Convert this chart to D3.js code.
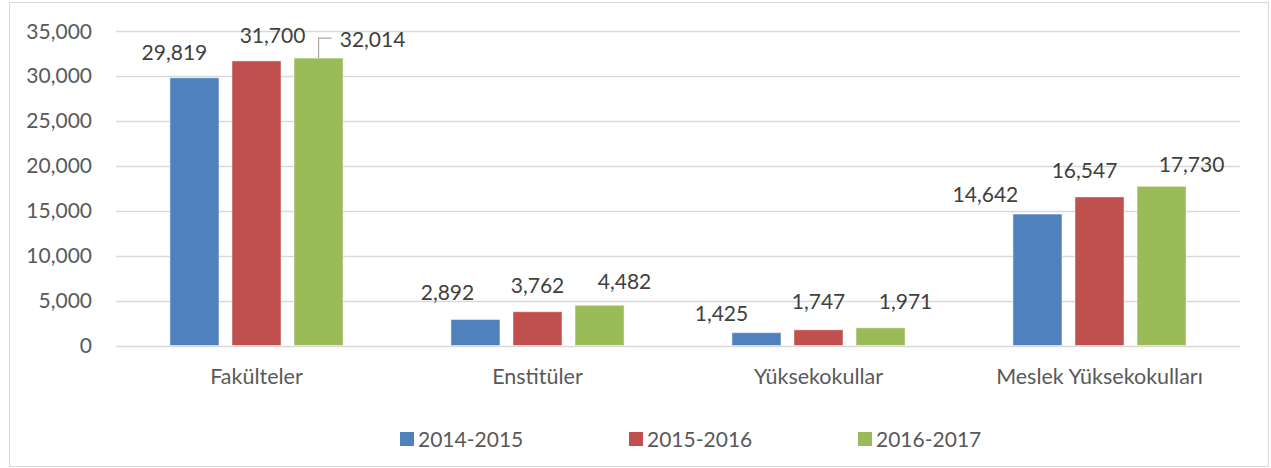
<!DOCTYPE html>
<html>
<head>
<meta charset="utf-8">
<script src="https://cdn.jsdelivr.net/npm/d3@7"></script>
<style>
  body { margin: 0; background: #fff; }
  text { font-family: Lato, "Open Sans", sans-serif; }
</style>
</head>
<body>
<div id="chart"></div>
<script>
// data
const categories = ["Fakülteler", "Enstitüler", "Yüksekokullar", "Meslek Yüksekokulları"];
const seriesNames = ["2014-2015", "2015-2016", "2016-2017"];
const values2014 = [29819, 2892, 1425, 14642];
const values2015 = [31700, 3762, 1747, 16547];
const values2016 = [32014, 4482, 1971, 17730];
const yTicks = [0, 5000, 10000, 15000, 20000, 25000, 30000, 35000];

const colors = ["#4F81BD", "#C0504D", "#9BBB59"];
const seriesValues = [values2014, values2015, values2016];

// label placement as excel left it (dx from bar centre, gap above bar top)
const labelNudge = [
    [[-20, 18], [16, 18], [54, 11]],
    [[-28, 20], [0, 19], [25, 16]],
    [[-35, 12], [0, 21], [25, 19]],
    [[-52, 12], [-15, 19], [30, 14]]
];

const width = 1271, height = 468;
const margin = { top: 31, right: 31, bottom: 122, left: 116 };

const svg = d3.select("#chart").append("svg")
    .attr("width", width)
    .attr("height", height);

// outer frame
svg.append("rect")
    .attr("x", 9.5).attr("y", 2.5)
    .attr("width", 1259).attr("height", 464)
    .attr("fill", "#fff")
    .attr("stroke", "#d9d9d9");

const x = d3.scaleBand()
    .domain(categories)
    .range([margin.left, width - margin.right])
    .paddingInner(0.384)
    .paddingOuter(0.192);

const xSub = d3.scaleBand()
    .domain(seriesNames)
    .range([0, x.bandwidth()])
    .paddingInner(0.21);

const y = d3.scaleLinear()
    .domain([0, 35000])
    .range([345.5, 31.3]);

// grid lines
svg.append("g")
    .selectAll("line")
    .data(yTicks)
    .join("line")
    .attr("x1", margin.left)
    .attr("x2", width - margin.right)
    .attr("y1", d => Math.round(y(d)) + 0.5)
    .attr("y2", d => Math.round(y(d)) + 0.5)
    .attr("stroke", "#d9d9d9")
    .attr("stroke-width", 1.3);

// y axis labels
const yAxis = svg.append("g")
    .attr("transform", `translate(${margin.left - 24},0)`)
    .call(d3.axisLeft(y).tickValues(yTicks).tickSize(0).tickPadding(0).tickFormat(d3.format(",")));
yAxis.select(".domain").remove();
yAxis.selectAll("text")
    .attr("fill", "#595959")
    .style("font-size", "21px")
    .style("font-family", "Lato, sans-serif");

// x axis labels
const xAxis = svg.append("g")
    .attr("transform", `translate(0,${y(0)})`)
    .call(d3.axisBottom(x).tickSize(0).tickPadding(23));
xAxis.select(".domain").remove();
xAxis.selectAll("text")
    .attr("fill", "#595959")
    .style("font-size", "21.5px")
    .style("font-family", "Lato, sans-serif");

// bars
const groups = svg.append("g")
    .selectAll("g")
    .data(categories)
    .join("g")
    .attr("transform", d => `translate(${x(d)},0)`);

groups.selectAll("rect")
    .data((c, i) => seriesNames.map((s, j) => ({ s, j, i, v: seriesValues[j][i] })))
    .join("rect")
    .attr("x", d => xSub(d.s))
    .attr("y", d => y(d.v))
    .attr("width", xSub.bandwidth())
    .attr("height", d => y(0) - y(d.v))
    .attr("fill", d => colors[d.j])
    .attr("stroke", "rgba(255,255,255,0.45)")
    .attr("stroke-width", 1);

// data labels
groups.selectAll("text.val")
    .data((c, i) => seriesNames.map((s, j) => ({ s, j, i, v: seriesValues[j][i] })))
    .join("text")
    .attr("class", "val")
    .attr("x", d => xSub(d.s) + xSub.bandwidth() / 2 + labelNudge[d.i][d.j][0])
    .attr("y", d => y(d.v) - labelNudge[d.i][d.j][1])
    .attr("text-anchor", "middle")
    .attr("fill", "#404040")
    .style("font-size", "21px")
    .text(d => d3.format(",")(d.v));

// leader line for 32,014
const lead = { i: 0, j: 2 };
const leadX = x(categories[lead.i]) + xSub(seriesNames[lead.j]) + xSub.bandwidth() / 2;
const leadTop = y(seriesValues[lead.j][lead.i]);
svg.append("path")
    .attr("d", `M${leadX},${leadTop} V${leadTop - 20} H${leadX + 13}`)
    .attr("fill", "none")
    .attr("stroke", "#a6a6a6")
    .attr("stroke-width", 1.2);

// legend
const legend = svg.append("g")
    .selectAll("g")
    .data(seriesNames)
    .join("g")
    .attr("transform", (d, i) => `translate(${400 + i * 229},439)`);
legend.append("rect")
    .attr("x", 0).attr("y", -7)
    .attr("width", 14).attr("height", 14)
    .attr("fill", (d, i) => colors[i]);
legend.append("text")
    .attr("x", 18)
    .attr("y", 7.5)
    .attr("fill", "#595959")
    .style("font-size", "21px")
    .text(d => d);
</script>
</body>
</html>
